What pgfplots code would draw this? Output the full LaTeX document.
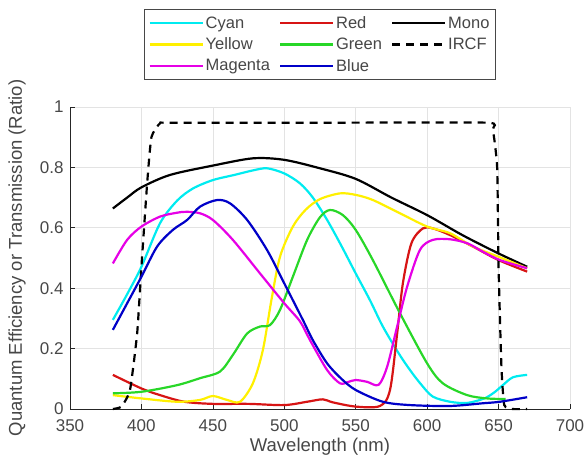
\documentclass[border=0pt]{standalone}
\usepackage{pgfplots}
\pgfplotsset{compat=1.18}
\usepackage{fontspec}
\setmainfont{Liberation Sans}
\definecolor{axgray}{RGB}{38,38,38}
\definecolor{cCyan}{RGB}{0,235,240}
\definecolor{cYellow}{RGB}{255,240,0}
\definecolor{cMagenta}{RGB}{230,0,230}
\definecolor{cRed}{RGB}{215,20,20}
\definecolor{cGreen}{RGB}{40,215,40}
\definecolor{cBlue}{RGB}{0,0,200}
\begin{document}
\begin{tikzpicture}
\begin{axis}[
  scale only axis, width=500pt, height=302pt,
  xmin=350, xmax=700, ymin=0, ymax=1,
  xtick={350,400,450,500,550,600,650,700},
  ytick={0,0.2,0.4,0.6,0.8,1},
  axis x line*=bottom, axis y line*=left,
  axis line style={-, axgray, line width=0.8pt},
  grid=major, grid style={gray!22, line width=0.7pt},
  tick align=inside, major tick length=5pt,
  tick style={axgray, line width=0.7pt},
  /pgf/number format/assume math mode=true,
  yticklabel style={/pgf/number format/fixed, /pgf/number format/precision=1, xshift=-3pt},
  xticklabel style={yshift=-7pt},
  ticklabel style={font=\fontsize{17}{20}\selectfont, text=axgray!85},
  xlabel={Wavelength (nm)},
  ylabel={Quantum Efficiency or Transmission (Ratio)},
  every axis x label/.style={at={(axis description cs:0.5,-0.126)}, anchor=center},
  every axis y label/.style={at={(axis description cs:-0.106,0.5)}, rotate=90, anchor=center},
  label style={font=\fontsize{18.5}{22}\selectfont, text=axgray!85},
  clip=false,
  every axis plot/.append style={line width=2.2pt, smooth, tension=0.5},
  legend columns=3,
  legend cell align=left,
  legend image code/.code={\draw[#1] (0pt,0pt) -- (53pt,0pt);},
  legend style={at={(0.5,1.3245)}, anchor=north, draw=axgray!85, line width=0.8pt,
    font=\fontsize{16.5}{19}\selectfont, text=axgray!85,
    /tikz/every even column/.append style={column sep=7pt},
    row sep=4pt, inner xsep=4pt, inner ysep=5pt},
]
\addplot[cCyan] coordinates {(380,0.295)(390,0.38)(400,0.471)(413,0.615)(425,0.69)(436,0.73)(450,0.758)(465,0.775)(478,0.79)(488,0.797)(500,0.78)(511,0.747)(520,0.70)(530,0.626)(540,0.54)(550,0.449)(560,0.36)(569,0.273)(580,0.185)(588,0.129)(596,0.08)(604,0.041)(616,0.024)(628,0.02)(640,0.035)(647,0.055)(653,0.079)(660,0.105)(670,0.113)};
\addlegendentry{Cyan}
\addplot[cRed] coordinates {(380,0.113)(400,0.068)(413,0.046)(430,0.024)(450,0.017)(475,0.017)(500,0.013)(516,0.024)(527,0.032)(534,0.022)(550,0.008)(567,0.01)(574,0.063)(579,0.25)(583,0.416)(589,0.549)(597,0.598)(604,0.598)(616,0.576)(632,0.538)(650,0.493)(670,0.455)};
\addlegendentry{Red}
\addplot[black] coordinates {(380,0.664)(390,0.70)(400,0.734)(420,0.775)(450,0.806)(478,0.83)(500,0.825)(525,0.797)(550,0.762)(575,0.70)(600,0.642)(625,0.575)(650,0.515)(670,0.471)};
\addlegendentry{Mono}
\addplot[cYellow] coordinates {(380,0.046)(400,0.035)(425,0.024)(441,0.03)(450,0.043)(460,0.03)(469,0.024)(478,0.085)(485,0.195)(491,0.361)(497,0.504)(506,0.604)(515,0.66)(525,0.695)(539,0.714)(550,0.709)(562,0.692)(581,0.648)(600,0.604)(616,0.582)(632,0.538)(650,0.504)(670,0.466)};
\addlegendentry{Yellow}
\addplot[cGreen] coordinates {(380,0.052)(400,0.057)(425,0.079)(441,0.102)(455,0.124)(464,0.179)(474,0.25)(483,0.273)(490,0.278)(497,0.328)(506,0.438)(516,0.56)(525,0.635)(532,0.659)(541,0.642)(550,0.593)(562,0.493)(581,0.317)(600,0.151)(611,0.085)(628,0.046)(642,0.035)(655,0.033)};
\addlegendentry{Green}
\addplot[black, dash pattern=on 8pt off 6pt, tension=0.3] coordinates {(380,0)(386,0.008)(392,0.063)(397,0.25)(400,0.471)(404,0.747)(407,0.9)(413,0.946)(420,0.948)(530,0.948)(642,0.948)(646,0.924)(649,0.8)(650,0.47)(652,0.14)(654,0.013)(660,0)(670,0)};
\addlegendentry{IRCF}
\addplot[cMagenta] coordinates {(380,0.482)(390,0.56)(400,0.604)(413,0.637)(425,0.65)(432,0.653)(441,0.648)(450,0.626)(464,0.56)(483,0.449)(500,0.35)(511,0.29)(518,0.228)(530,0.129)(539,0.085)(545,0.09)(550,0.096)(558,0.09)(566,0.08)(572,0.14)(579,0.273)(586,0.405)(595,0.527)(604,0.56)(616,0.562)(628,0.549)(639,0.521)(651,0.493)(670,0.466)};
\addlegendentry{Magenta}
\addplot[cBlue] coordinates {(380,0.262)(390,0.35)(400,0.438)(411,0.538)(422,0.593)(432,0.626)(441,0.67)(453,0.692)(462,0.681)(474,0.626)(488,0.526)(500,0.416)(513,0.295)(520,0.228)(530,0.151)(540,0.10)(550,0.063)(569,0.024)(588,0.013)(616,0.01)(639,0.019)(651,0.024)(670,0.039)};
\addlegendentry{Blue}
\end{axis}
\pgfresetboundingbox
\path ([shift={(-70pt,-59pt)}]current axis.south west) rectangle ([shift={(15pt,107pt)}]current axis.north east);
\end{tikzpicture}
\end{document}
